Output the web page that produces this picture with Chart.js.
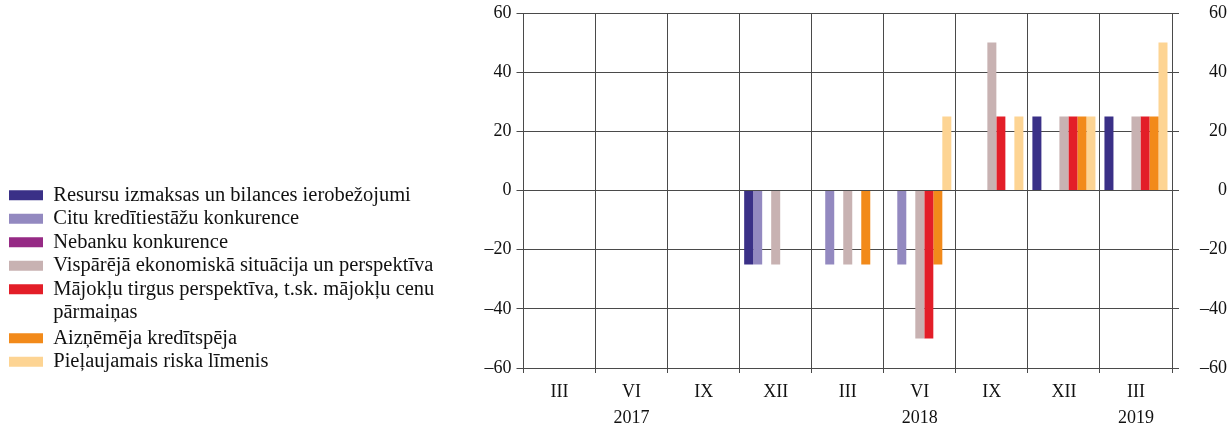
<!DOCTYPE html>
<html>
<head>
<meta charset="utf-8">
<script src="https://cdn.jsdelivr.net/npm/chart.js@4.4.1/dist/chart.umd.min.js"></script>
<style>
  html, body { margin: 0; padding: 0; background: #fff; }
  #wrap { width: 1227px; height: 425px; }
</style>
</head>
<body>
<div id="wrap"><canvas id="chart"></canvas></div>
<script>
// Quarter labels and the year under selected quarters
const quarters = ['III', 'VI', 'IX', 'XII', 'III', 'VI', 'IX', 'XII', 'III'];
const years    = ['', '2017', '', '', '', '2018', '', '', '2019'];

// Series (net percentage)
const resursi      = [0, 0, 0, -25, 0, 0, 0, 25, 25];
const citiKred     = [0, 0, 0, -25, -25, -25, 0, 0, 0];
const nebanku      = [0, 0, 0, 0, 0, 0, 0, 0, 0];
const ekonomika    = [0, 0, 0, -25, -25, -50, 50, 25, 25];
const majokli      = [0, 0, 0, 0, 0, -50, 25, 25, 25];
const kreditspeja  = [0, 0, 0, 0, -25, -25, 0, 25, 25];
const riskaLimenis = [0, 0, 0, 0, 0, 25, 25, 25, 50];

const yTicks = [-60, -40, -20, 0, 20, 40, 60];

const serif = "'Liberation Serif', 'DejaVu Serif', serif";
const gridColor = '#4a4a4a';

const labels = quarters.map((q, i) => years[i] ? [q, years[i]] : q);

const fmt = v => (v < 0 ? '\u2013' + Math.abs(v) : String(v));

const ds = (label, data, color) => ({
  label, data, backgroundColor: color, borderWidth: 0,
  categoryPercentage: 0.875, barPercentage: 1
});

// fixed box sizes for the value axes
const fitY = w => s => {
  s.width = w;
  s.paddingTop = 13;
  s.paddingBottom = 0;
};

// nudge the legend block down so it sits level with the reference
const legendShift = {
  id: 'legendShift',
  afterLayout(chart) {
    chart.legend.top += 7;
    chart.legend.bottom += 7;
  }
};

new Chart(document.getElementById('chart'), {
  type: 'bar',
  data: {
    labels,
    datasets: [
      ds('Resursu izmaksas un bilances ierobežojumi', resursi, '#3a3087'),
      ds('Citu kredītiestāžu konkurence', citiKred, '#9389c0'),
      ds('Nebanku konkurence', nebanku, '#962a85'),
      ds('Vispārējā ekonomiskā situācija un perspektīva', ekonomika, '#c8b2b2'),
      ds(['Mājokļu tirgus perspektīva, t.sk. mājokļu cenu', 'pārmaiņas'], majokli, '#e31e28'),
      ds('Aizņēmēja kredītspēja', kreditspeja, '#f28a1a'),
      ds('Pieļaujamais riska līmenis', riskaLimenis, '#fdd493')
    ]
  },
  options: {
    responsive: true,
    maintainAspectRatio: false,
    animation: false,
    layout: { padding: { left: 6, top: 0, right: 0, bottom: 0 } },
    plugins: {
      tooltip: { enabled: false },
      legend: {
        position: 'left',
        align: 'end',
        fullSize: false,
        maxWidth: 430,
        labels: {
          boxWidth: 34,
          boxHeight: 10,
          padding: 3,
          color: '#111',
          font: { family: serif, size: 20.5, lineHeight: 1.12 }
        }
      }
    },
    scales: {
      x: {
        grid: { color: gridColor, offset: true, tickLength: 5, lineWidth: 1 },
        border: { color: gridColor },
        ticks: {
          color: '#111', padding: 7, maxRotation: 0, autoSkip: false,
          font: { family: serif, size: 18, lineHeight: 1.4 }
        },
        afterFit: s => { s.height = 57; }
      },
      y: {
        position: 'left',
        min: -60, max: 60,
        afterBuildTicks: s => { s.ticks = yTicks.map(v => ({ value: v })); },
        grid: { color: gridColor, tickLength: 7, lineWidth: 1 },
        border: { color: gridColor },
        ticks: {
          color: '#111', padding: 5, callback: fmt,
          font: { family: serif, size: 18 }
        },
        afterFit: fitY(87.5)
      },
      y2: {
        position: 'right',
        min: -60, max: 60,
        afterBuildTicks: s => { s.ticks = yTicks.map(v => ({ value: v })); },
        grid: { color: gridColor, tickLength: 7, drawOnChartArea: false },
        border: { color: gridColor },
        ticks: {
          color: '#111', padding: 9, callback: fmt, crossAlign: 'far',
          font: { family: serif, size: 18 }
        },
        afterFit: fitY(55)
      }
    }
  },
  plugins: [legendShift]
});
</script>
</body>
</html>
